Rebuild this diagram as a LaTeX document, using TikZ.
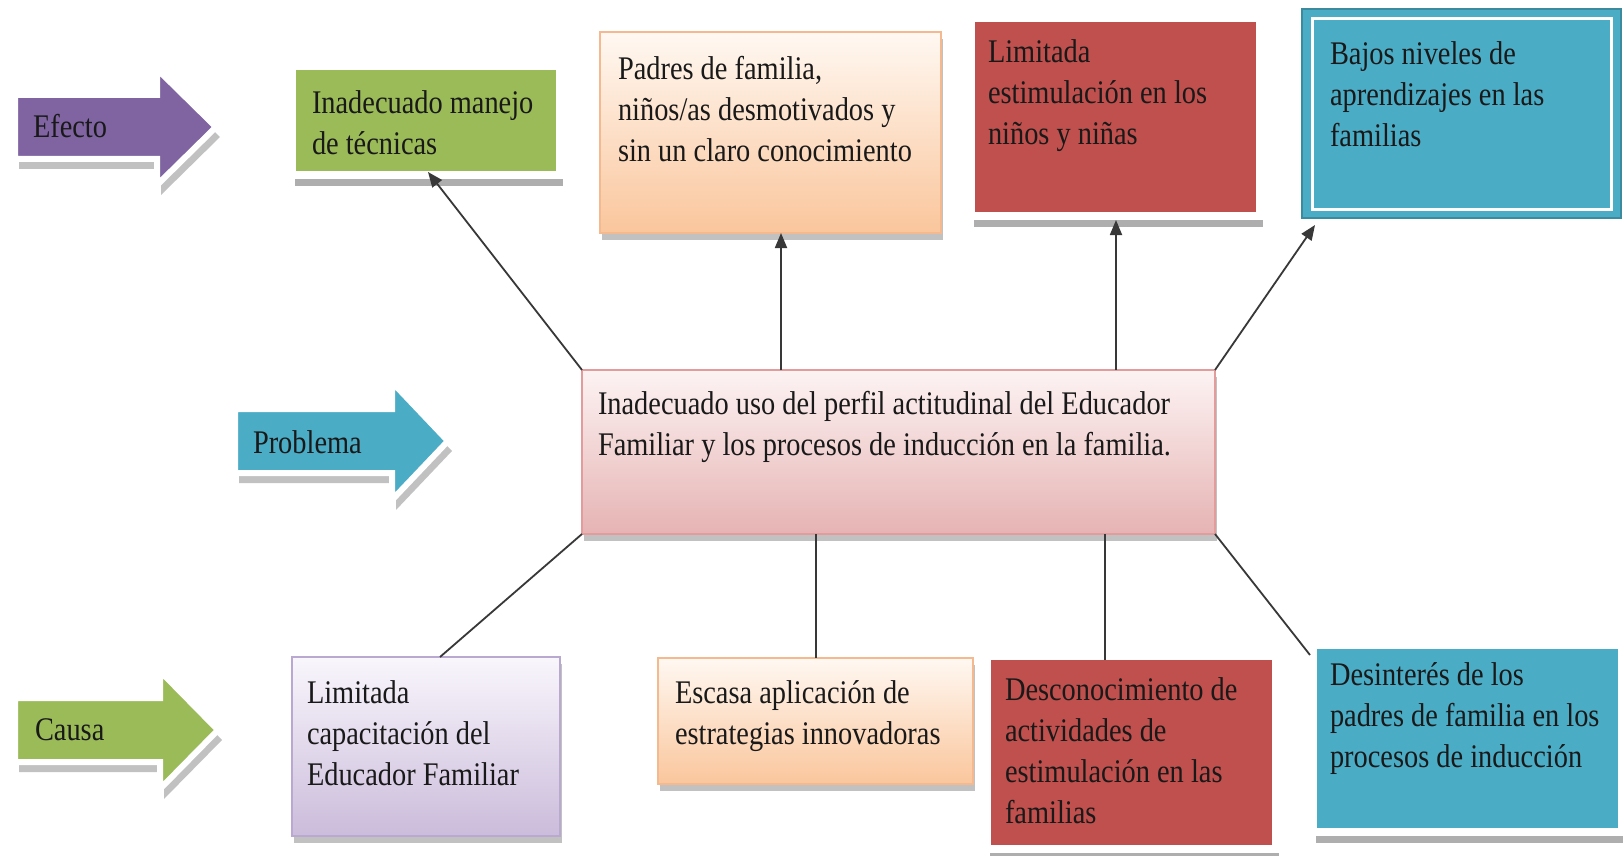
\documentclass[tikz,border=0pt]{standalone}
\usepackage{fontspec}
\setmainfont{Liberation Serif}[FakeStretch=0.86]
\usetikzlibrary{calc,arrows.meta,shadows}
\definecolor{cPurple}{HTML}{8064A2}
\definecolor{cBlue}{HTML}{4BACC6}
\definecolor{cGreen}{HTML}{9BBB59}
\definecolor{cRed}{HTML}{C0504D}
\definecolor{peachTop}{HTML}{FFF8F2}
\definecolor{peachBot}{HTML}{FAC69C}
\definecolor{peachLine}{HTML}{F4B98E}
\definecolor{pinkTop}{HTML}{FDF3F3}
\definecolor{pinkBot}{HTML}{E6B3B3}
\definecolor{pinkLine}{HTML}{E39C9C}
\definecolor{lavTop}{HTML}{F9F6FC}
\definecolor{lavBot}{HTML}{CBBCDB}
\definecolor{lavLine}{HTML}{B9A8CF}
\definecolor{lineGray}{HTML}{383838}
\begin{document}
\begin{tikzpicture}[x=1pt,y=-1pt,
  font=\fontsize{33}{41}\selectfont,
  plainbox/.style={rectangle, inner sep=0pt, outer sep=0pt, anchor=north west},
  wbox/.style={plainbox, draw=white, line width=8pt,
    drop shadow={shadow xshift=3pt, shadow yshift=-11pt, fill=black!45, opacity=.7}},
  gbox/.style={plainbox, line width=1.5pt,
    drop shadow={shadow xshift=2pt, shadow yshift=-7pt, fill=black!40, opacity=.6}},
  bigarrow/.style={draw=white, line width=6pt, line join=miter,
    drop shadow={shadow xshift=4pt, shadow yshift=-10pt, fill=black!40, opacity=.6}},
  txt/.style={inner sep=0pt, outer sep=0pt, anchor=north west, align=left, text=black!90},
  lbl/.style={inner sep=0pt, outer sep=0pt, anchor=base west, text=black!90},
  conn/.style={draw=lineGray, line width=1.8pt},
  conntip/.style={conn, -{Triangle[length=15pt, width=12pt]}}
]
\useasboundingbox[fill=white] (0,0) rectangle (1623,856);

% ---- row arrows ----
\path[bigarrow, fill=cPurple] (15,95) -- (157,95) -- (157,69) -- (216,127) -- (157,185) -- (157,159) -- (15,159) -- cycle;
\node[lbl] (efecto) at (33,138) {Efecto};

\path[bigarrow, fill=cBlue] (235,409) -- (392,409) -- (392,382) -- (448,441) -- (392,500) -- (392,473) -- (235,473) -- cycle;
\node[lbl] (problema) at (253,453) {Problema};

\path[bigarrow, fill=cGreen] (15,698) -- (160,698) -- (160,671) -- (218,730) -- (160,789) -- (160,762) -- (15,762) -- cycle;
\node[lbl] (causa) at (35,740) {Causa};

% ---- effect boxes ----
\node[wbox, fill=cGreen, minimum width=268pt, minimum height=109pt] (e1) at (292,66) {};
\node[txt] (t1) at (312,85.3) {\strut Inadecuado manejo\\de técnicas};

\node[gbox, draw=peachLine, top color=peachTop, bottom color=peachBot,
  minimum width=341pt, minimum height=201pt] (e2) at (600,32) {};
\node[txt] (t2) at (618,51.3) {\strut Padres de familia,\\niños/as desmotivados y\\sin un claro conocimiento};

\node[wbox, fill=cRed, minimum width=289pt, minimum height=198pt] (e3) at (971,18) {};
\node[txt] (t3) at (988,34.3) {\strut Limitada\\estimulación en los\\niños y niñas};

\node[plainbox, fill=cBlue, draw=cBlue!80!black, line width=1.5pt,
  minimum width=319pt, minimum height=209pt] (e4) at (1302,9) {};
\draw[white, line width=3pt] ($(e4.north west)+(10,10)$) rectangle ($(e4.south east)+(-10,-9)$);
\node[txt] (t4) at (1330,36.3) {\strut Bajos niveles de\\aprendizajes en las\\familias};

% ---- problem box ----
\node[gbox, draw=pinkLine, top color=pinkTop, bottom color=pinkBot,
  minimum width=633pt, minimum height=164pt] (prob) at (582,370) {};
\node[txt] (tp) at (598,385.3) {\strut Inadecuado uso del perfil actitudinal del Educador\\Familiar y los procesos de inducción en la familia.};

% ---- cause boxes ----
\node[gbox, draw=lavLine, top color=lavTop, bottom color=lavBot,
  minimum width=268pt, minimum height=179pt] (c1) at (292,657) {};
\node[txt] (u1) at (307,674.3) {\strut Limitada\\capacitación del\\Educador Familiar};

\node[gbox, draw=peachLine, top color=peachTop, bottom color=peachBot,
  minimum width=315pt, minimum height=126pt] (c2) at (658,658) {};
\node[txt] (u2) at (675,674.3) {\strut Escasa aplicación de\\estrategias innovadoras};

\node[wbox, fill=cRed, minimum width=289pt, minimum height=193pt] (c3) at (987,656) {};
\node[txt] (u3) at (1005,671.3) {\strut Desconocimiento de\\actividades de\\estimulación en las\\familias};

\node[wbox, fill=cBlue, minimum width=309pt, minimum height=187pt] (c4) at (1313,645) {};
\node[txt] (u4) at (1330,656.3) {\strut Desinterés de los\\padres de familia en los\\procesos de inducción};

% ---- connectors ----
\draw[conntip] (prob.north west) -- ($(e1.south west)+(136,-3)$);
\draw[conntip] ($(prob.north west)+(199,0)$) -- ($(e2.south west)+(181,0)$);
\draw[conntip] ($(prob.north west)+(534,0)$) -- ($(e3.south west)+(145,4)$);
\draw[conntip] (prob.north east) -- ($(e4.south west)+(13,7)$);

\draw[conn] (prob.south west) -- ($(c1.north west)+(148,0)$);
\draw[conn] ($(prob.south west)+(234,0)$) -- ($(c2.north west)+(158,0)$);
\draw[conn] ($(prob.south west)+(523,0)$) -- ($(c3.north west)+(118,4)$);
\draw[conn] (prob.south east) -- ($(c4.north west)+(-3,10)$);
\end{tikzpicture}
\end{document}
